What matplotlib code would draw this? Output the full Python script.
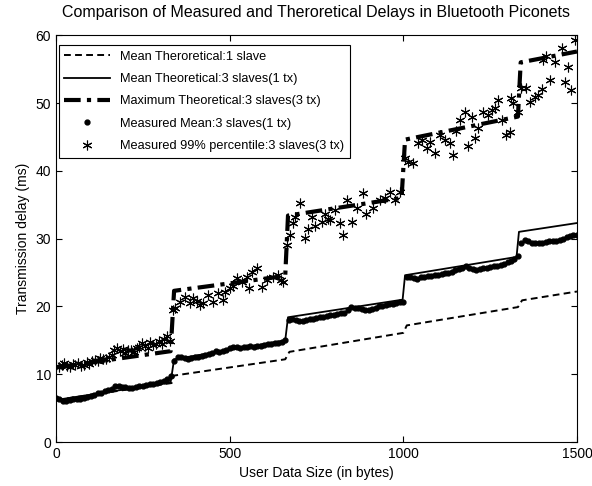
import matplotlib
matplotlib.use("Agg")
import matplotlib.pyplot as plt
import numpy as np

plt.rcParams['font.family'] = ['Liberation Sans', 'DejaVu Sans']
plt.rcParams['font.size'] = 10

# theoretical curves (breakpoints)
theo1_x = [0, 333, 340, 660, 672, 1000, 1010, 1330, 1342, 1500]
theo1_y = [6.2, 8.7, 9.8, 12.2, 13.3, 16.1, 17.2, 19.9, 20.9, 22.2]

theo3_x = [0, 330, 340, 660, 668, 998, 1005, 1326, 1333, 1500]
theo3_y = [6.2, 8.8, 12.2, 15.0, 18.4, 21.0, 24.6, 27.3, 31.0, 32.3]

max3_x = [0, 330, 340, 660, 668, 995, 1005, 1330, 1338, 1500]
max3_y = [11.0, 13.4, 22.3, 24.5, 33.4, 36.0, 44.6, 48.0, 56.0, 57.6]

# measured mean, every 10 bytes
mean_x = np.arange(0, 1501, 10)
mean_y = [6.5, 6.3, 6.1, 6.0, 6.2, 6.3, 6.3, 6.4, 6.5, 6.7, 6.8, 7.0, 7.2, 7.3, 7.5, 7.6, 7.8,
          8.3, 8.2, 8.1, 8.1, 8.0, 8.0, 8.1, 8.2, 8.3, 8.4, 8.5, 8.6, 8.7, 8.8, 9.0, 9.3, 9.8,
          12.0, 12.5, 12.5, 12.4, 12.3, 12.4, 12.5, 12.6, 12.7, 12.8, 13.0, 13.2, 13.4, 13.3,
          13.4, 13.6, 13.8, 14.0, 14.0, 13.9, 14.0, 14.0, 14.1, 14.0, 14.1, 14.2, 14.3, 14.4,
          14.5, 14.6, 14.6, 14.7, 15.0,
          18.0, 18.2, 18.0, 17.9, 17.9, 18.0, 18.1, 18.2, 18.3, 18.4, 18.5, 18.6, 18.7, 18.8,
          18.9, 19.0, 19.1, 19.4, 19.9, 19.8, 19.7, 19.6, 19.5, 19.5, 19.6, 19.8, 20.0, 20.1,
          20.2, 20.3, 20.4, 20.5, 20.6, 20.7,
          24.3, 24.4, 24.2, 24.1, 24.3, 24.4, 24.5, 24.5, 24.6, 24.7, 24.8, 24.9, 25.0, 25.1,
          25.3, 25.5, 25.7, 25.9, 25.7, 25.5, 25.4, 25.5, 25.6, 25.7, 25.8, 25.9, 26.0, 26.1,
          26.3, 26.5, 26.7, 27.0, 27.5,
          29.3, 29.8, 29.6, 29.4, 29.3, 29.4, 29.4, 29.5, 29.6, 29.6, 29.7, 29.8, 29.9, 30.2,
          30.4, 30.6, 30.5]

# measured 99% percentile
p99_x = [0, 8, 16, 24, 32, 40, 48, 56, 64, 72, 80, 88, 96, 104, 112, 120, 128, 136, 144, 152,
         160, 168, 176, 184, 192, 200, 208, 216, 224, 232, 240, 248, 256, 264, 272, 280, 288,
         296, 304, 312, 320, 328,
         336, 343, 357, 371, 386, 395, 405, 415, 424, 438, 453, 467, 482, 487, 501, 510, 520,
         535, 549, 556, 563, 578, 592, 607, 625, 640, 647, 654,
         664, 674, 681, 688, 703, 717, 726, 736, 746, 765, 774, 784, 789, 803, 818, 827, 837,
         851, 866, 885, 894, 914, 933, 947, 962, 976, 990,
         1005, 1014, 1028, 1042, 1053, 1067, 1076, 1091, 1105, 1120, 1134, 1143, 1153, 1163,
         1177, 1187, 1197, 1206, 1215, 1229, 1244, 1254, 1264, 1273, 1283, 1297, 1307, 1311,
         1316, 1331,
         1340, 1354, 1364, 1379, 1389, 1398, 1402, 1412, 1422, 1437, 1456, 1465, 1475, 1484,
         1494]
p99_y = [11.2, 11.0, 11.4, 11.6, 11.2, 11.0, 11.5, 11.3, 11.6, 11.2, 11.4, 11.8, 11.5, 11.9,
         12.1, 12.0, 12.4, 12.2, 12.3, 12.6, 12.8, 13.5, 13.9, 13.4, 13.7, 13.2, 13.6, 13.5,
         13.3, 13.8, 14.0, 14.6, 14.2, 13.9, 14.8, 14.3, 14.5, 14.9, 14.4, 15.2, 15.6, 14.9,
         19.5, 19.8, 20.7, 21.4, 20.5, 21.2, 20.8, 20.2, 20.5, 21.7, 20.7, 22.0, 20.9, 22.2,
         22.7, 23.0, 24.2, 23.6, 24.4, 22.7, 25.1, 25.6, 22.9, 23.9, 24.4, 24.6, 23.9, 23.6,
         29.1, 30.5, 32.3, 33.2, 35.3, 30.1, 31.4, 33.2, 31.8, 32.4, 33.7, 32.9, 32.7, 34.2,
         32.3, 30.5, 35.7, 32.5, 34.5, 36.8, 33.7, 34.5, 35.7, 36.0, 36.9, 35.7, 36.9,
         41.9, 41.3, 41.1, 44.1, 44.6, 43.4, 44.3, 42.6, 45.3, 44.5, 44.1, 42.4, 45.9, 47.5,
         48.7, 43.7, 48.0, 44.8, 46.3, 48.7, 48.2, 49.0, 49.2, 50.4, 47.5, 45.3, 45.8, 50.7,
         50.0, 48.7,
         52.2, 52.2, 50.2, 50.9, 51.2, 52.1, 56.4, 57.0, 53.4, 56.1, 58.1, 53.1, 55.3, 51.9,
         59.3]

fig = plt.figure(figsize=(5.92, 4.86), dpi=100)
ax = fig.add_axes([0.0946, 0.0905, 0.880, 0.837])

ax.plot(theo1_x, theo1_y, color='k', lw=1.4, dashes=(3.5, 2.2),
        label='Mean Theroretical:1 slave')
ax.plot(theo3_x, theo3_y, color='k', lw=1.3, label='Mean Theoretical:3 slaves(1 tx)')
ax.plot(max3_x, max3_y, color='k', lw=3.0, dashes=(4, 1.5, 1, 1.5),
        label='Maximum Theoretical:3 slaves(3 tx)')
ax.plot(mean_x, mean_y, 'o', color='k', ms=3.5, label='Measured Mean:3 slaves(1 tx)')
ax.plot(p99_x, p99_y, linestyle='none', marker=(6, 2, 0), color='k', ms=7, mew=0.8,
        label='Measured 99% percentile:3 slaves(3 tx)')

ax.set_xlim(0, 1500)
ax.set_ylim(0, 60)
ax.set_xticks([0, 500, 1000, 1500])
ax.set_yticks(range(0, 61, 10))
ax.tick_params(direction='in', top=True, right=True, length=4, labelsize=10)
ax.set_xlabel('User Data Size (in bytes)')
ax.set_ylabel('Transmission delay (ms)')
ax.set_title('Comparison of Measured and Theroretical Delays in Bluetooth Piconets',
             fontsize=11.5, pad=13)

leg = ax.legend(loc='upper left', bbox_to_anchor=(0.006, 0.975), borderaxespad=0,
                fancybox=False, framealpha=1, edgecolor='k',
                handlelength=3.6, labelspacing=0.82, fontsize=9.2)
leg.get_frame().set_linewidth(0.8)

fig.savefig('out.png', dpi=100)
